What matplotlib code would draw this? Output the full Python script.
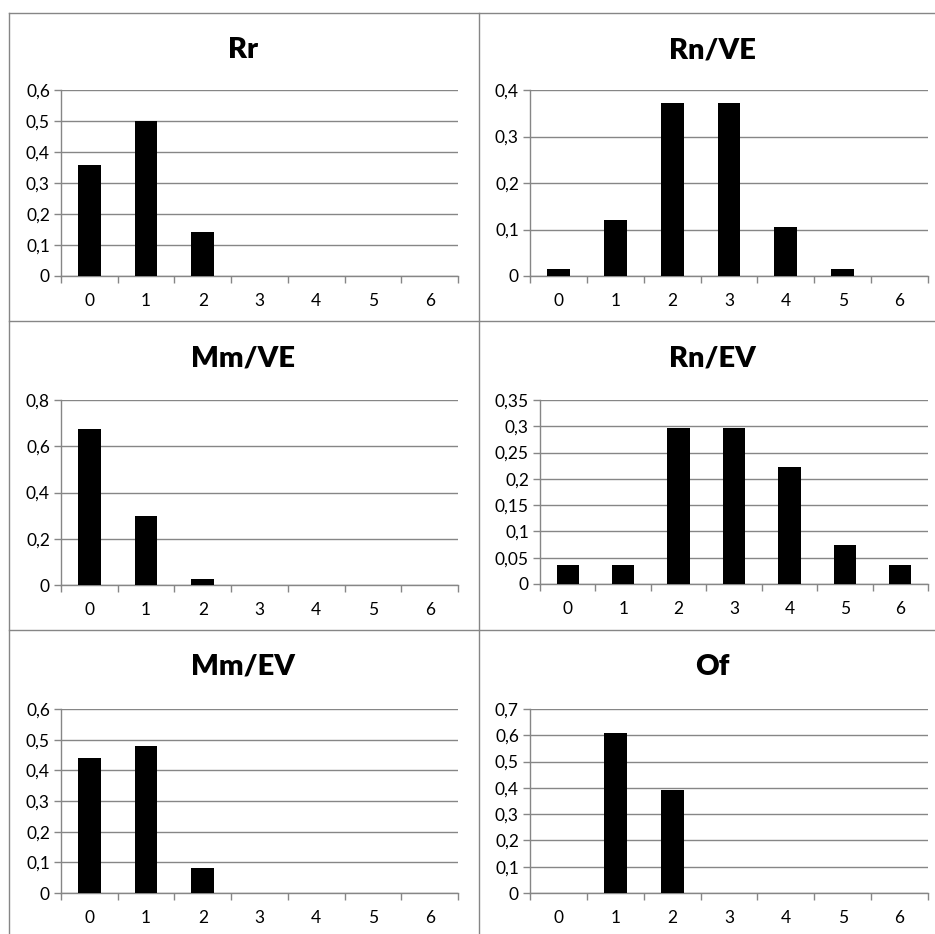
import numpy as np
import matplotlib
matplotlib.use('Agg')
import matplotlib.pyplot as plt
from matplotlib.lines import Line2D
from matplotlib.ticker import FuncFormatter

plt.rcParams['font.family'] = ['Lato', 'DejaVu Sans']

### Data
categories = [0, 1, 2, 3, 4, 5, 6]
titles = ['Rr', 'Rn/VE', 'Mm/VE', 'Rn/EV', 'Mm/EV', 'Of']
rr = [0.357, 0.5, 0.143, 0, 0, 0, 0]
rn_ve = [0.016, 0.121, 0.371, 0.371, 0.105, 0.016, 0]
mm_ve = [0.675, 0.297, 0.027, 0, 0, 0, 0]
rn_ev = [0.037, 0.037, 0.296, 0.296, 0.222, 0.074, 0.037]
mm_ev = [0.44, 0.48, 0.08, 0, 0, 0, 0]
of = [0, 0.61, 0.39, 0, 0, 0, 0]
series = [rr, rn_ve, mm_ve, rn_ev, mm_ev, of]
y_max = [0.6, 0.4, 0.8, 0.35, 0.6, 0.7]
y_step = [0.1, 0.1, 0.2, 0.05, 0.1, 0.1]

W, H = 935, 934
grey = '#868686'

# plot area rectangles in pixels: left, top, right, bottom
boxes = [
    (61, 90, 458, 276), (530, 90, 928, 276),
    (61, 400, 458, 585), (540, 400, 928, 584),
    (61, 709, 458, 893), (530, 709, 928, 893),
]
title_y = [50, 358, 667]
title_x = [243, 712]

fig = plt.figure(figsize=(W / 100, H / 100), dpi=100)

def fmt(v, pos):
    if abs(v) < 1e-9:
        return '0'
    return ('%g' % round(v, 3)).replace('.', ',')

for i, (l, t, r, b) in enumerate(boxes):
    ax = fig.add_axes([l / W, 1 - b / H, (r - l) / W, (b - t) / H])
    ax.bar(categories, series[i], width=0.4, color='black', zorder=3)
    ax.set_xlim(-0.5, 6.5)
    ax.set_ylim(0, y_max[i])
    ax.set_yticks(np.arange(0, y_max[i] + y_step[i] / 2, y_step[i]))
    ax.yaxis.set_major_formatter(FuncFormatter(fmt))
    ax.yaxis.grid(True, color=grey, lw=1.0)
    ax.set_axisbelow(True)
    ax.set_xticks(np.arange(-0.5, 7, 1))
    ax.set_xticklabels([])
    ax.set_xticks(categories, minor=True)
    ax.set_xticklabels([str(c) for c in categories], minor=True)
    ax.tick_params(axis='x', which='major', length=5, color=grey, width=1)
    ax.tick_params(axis='x', which='minor', length=0, pad=12, labelsize=12.5)
    ax.tick_params(axis='y', length=5, color=grey, width=1, labelsize=12.5, pad=3)
    for s in ['top', 'right']:
        ax.spines[s].set_visible(False)
    for s in ['left', 'bottom']:
        ax.spines[s].set_color(grey)
        ax.spines[s].set_linewidth(1.0)
    fig.text(title_x[i % 2] / W, 1 - title_y[i // 2] / H, titles[i], ha='center', va='center',
             fontsize=21, fontweight='heavy')

# panel borders
def hline(y, x0=9, x1=W):
    fig.add_artist(Line2D([x0 / W, x1 / W], [1 - y / H, 1 - y / H], color=grey, lw=1))

def vline(x, y0=13, y1=H):
    fig.add_artist(Line2D([x / W, x / W], [1 - y0 / H, 1 - y1 / H], color=grey, lw=1))

hline(13)
hline(321)
hline(630)
vline(9)
vline(479)

fig.savefig('out.png', dpi=100)
